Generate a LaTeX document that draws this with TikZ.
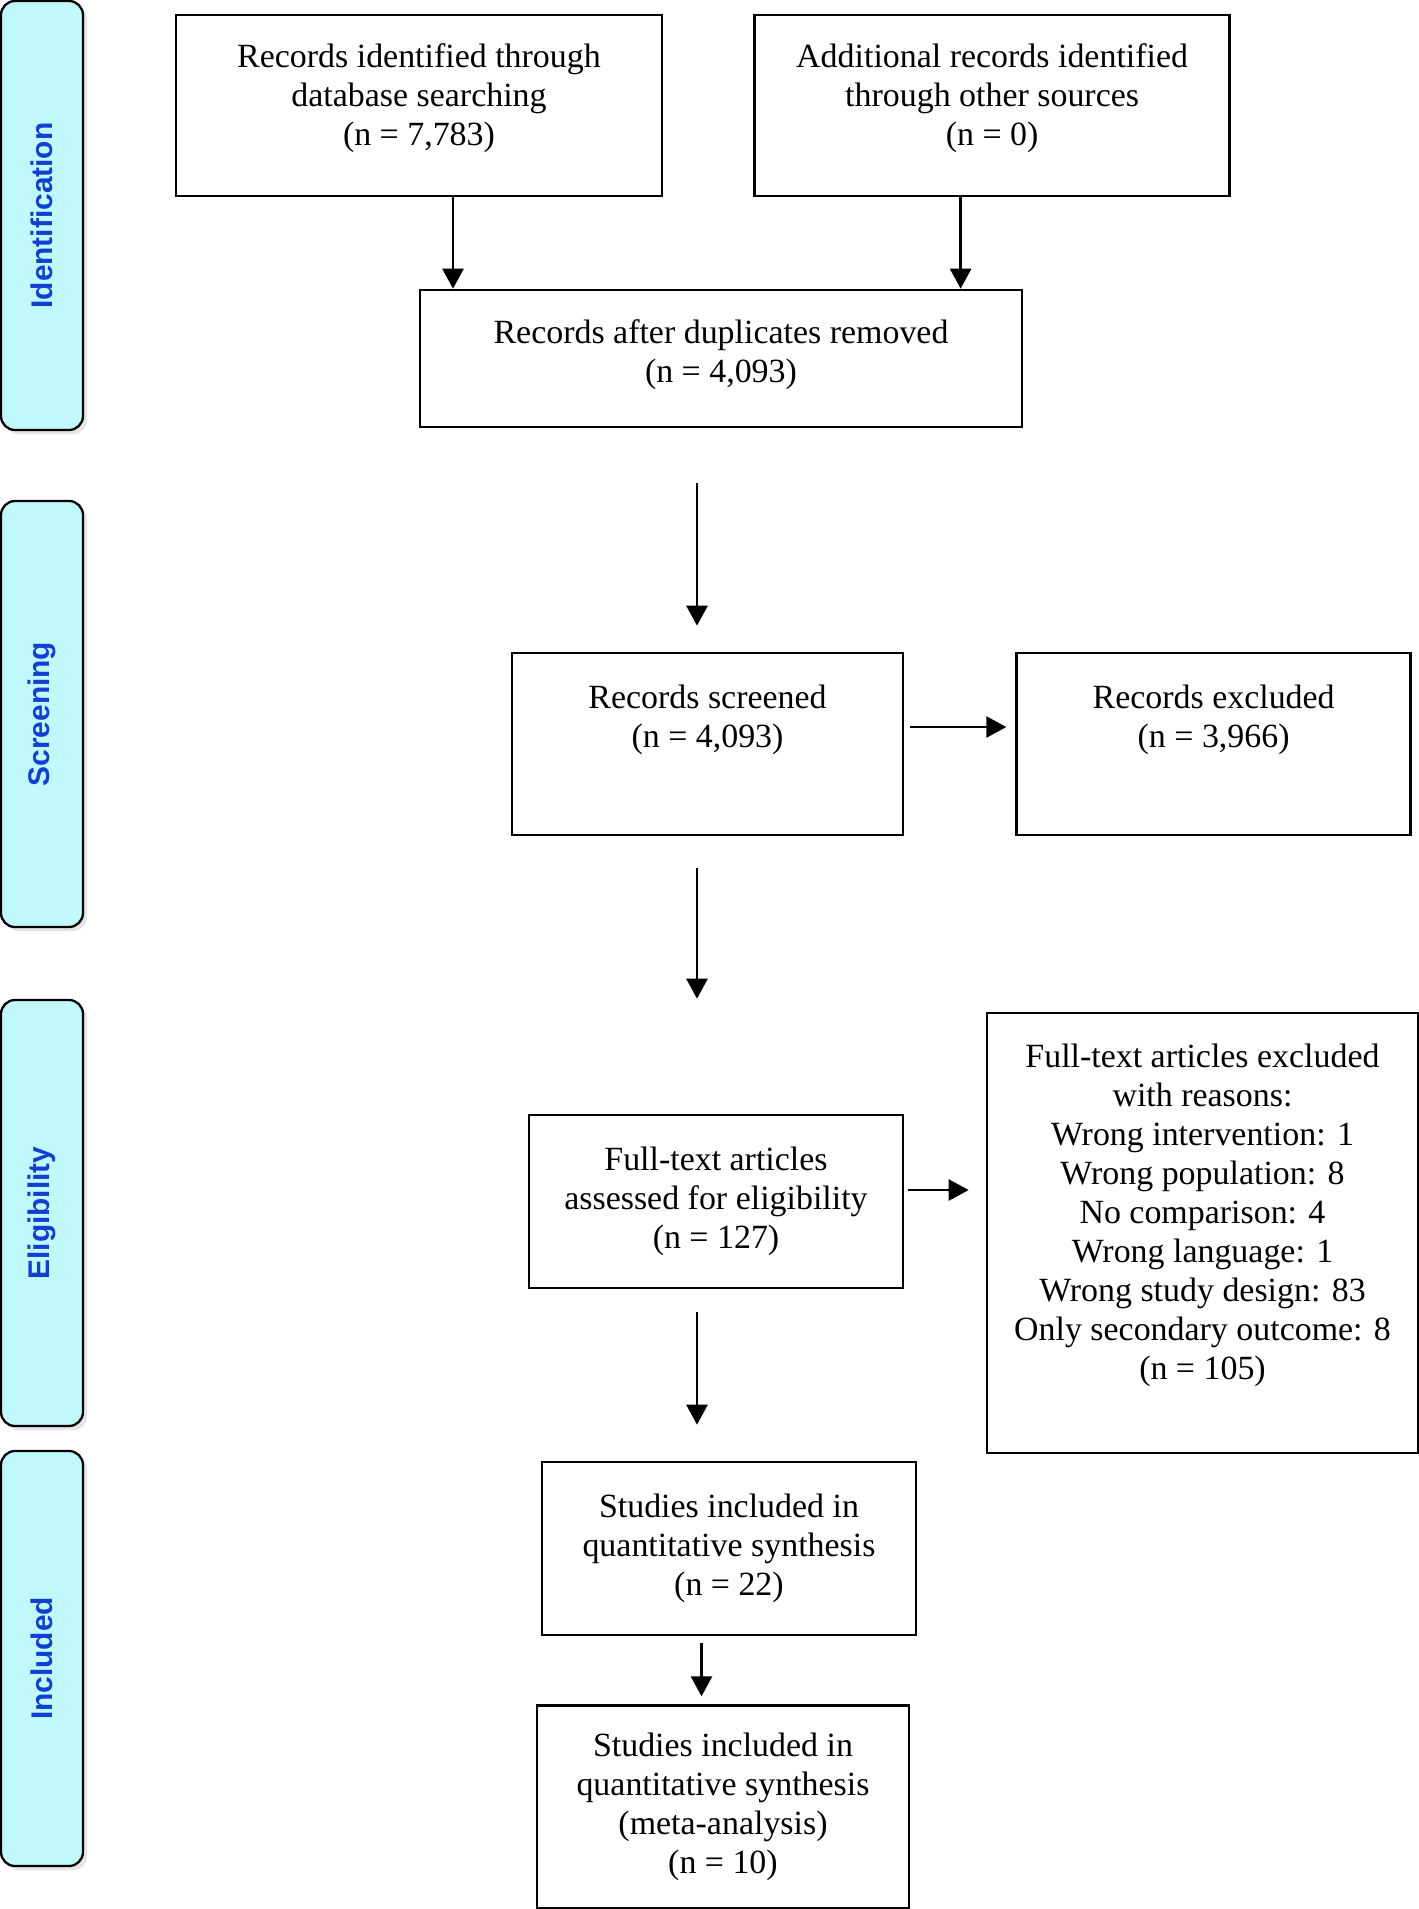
\documentclass[tikz,border=0pt]{standalone}
\usepackage{fontspec}
\setmainfont{Liberation Serif}
\newfontfamily\phasefont{Liberation Sans}
\usetikzlibrary{positioning}
\usetikzlibrary{arrows.meta}
\usetikzlibrary{shadows}
\definecolor{phasefill}{RGB}{192,248,252}
\definecolor{phasetext}{RGB}{16,64,208}
\tikzset{
  record/.style={draw, line width=1.5pt, align=center, inner sep=0pt,
    font=\fontsize{19.3}{22.2}\selectfont},
  phase/.style={draw, line width=1.3pt, rounded corners=0.28cm,
    fill=phasefill, rotate=90, minimum height=1.64cm, text=phasetext,
    font=\phasefont\bfseries\fontsize{17}{20}\selectfont,
    drop shadow={shadow xshift=0.08cm, shadow yshift=-0.08cm, fill=black!10, opacity=1}},
  flow/.style={-{Triangle[length=0.4cm,width=0.42cm]}, line width=1.5pt}
}
\begin{document}
\begin{tikzpicture}
\useasboundingbox (0,0) rectangle (28.38,-38.18);

% Phase bars
\node[phase, minimum width=8.58cm] (ident) at (0.84,-4.31) {Identification};
\node[phase, minimum width=8.52cm] (screen) at (0.84,-14.28) {Screening};
\node[phase, minimum width=8.52cm] (elig) at (0.84,-24.26) {Eligibility};
\node[phase, minimum width=8.30cm] (incl) at (0.84,-33.17) {Included};

% Identification
\node[record,
    minimum width=9.72cm,
    minimum height=3.62cm,
    text depth=0.45cm
    ] (dbsearch) at (8.38,-2.11) {Records identified through\\database searching\\(n = 7,783)};
\node[record,
    minimum width=9.5cm,
    minimum height=3.62cm,
    text depth=0.45cm,
    right=1.8cm of dbsearch
    ] (othersrc) {Additional records identified\\through other sources\\(n = 0)};
\node[record,
    minimum width=12.04cm,
    minimum height=2.74cm,
    text depth=0.3cm
    ] (dedup) at (14.42,-7.17) {Records after duplicates removed\\(n = 4,093)};

% Screening
\node[record,
    minimum width=7.82cm,
    minimum height=3.64cm,
    text depth=1.12cm
    ] (screened) at (14.15,-14.88) {Records screened\\(n = 4,093)};
\node[record,
    minimum width=7.88cm,
    minimum height=3.64cm,
    text depth=1.12cm,
    right=2.22cm of screened
    ] (excluded) {Records excluded\\(n = 3,966)};

% Eligibility
\node[record,
    minimum width=7.48cm,
    minimum height=3.46cm
    ] (fulltext) at (14.32,-24.03) {Full-text articles\\assessed for eligibility\\(n = 127)};
\node[record,
    minimum width=8.62cm,
    minimum height=8.8cm,
    text depth=0.85cm
    ] (ftexcl) at (24.05,-24.66) {Full-text articles excluded\\with reasons:\\Wrong intervention: 1\\Wrong population: 8\\No comparison: 4\\Wrong language: 1\\Wrong study design: 83\\Only secondary outcome: 8\\(n = 105)};

% Included
\node[record,
    minimum width=7.48cm,
    minimum height=3.46cm
    ] (quant) at (14.58,-30.97) {Studies included in\\quantitative synthesis\\(n = 22)};
\node[record,
    minimum width=7.44cm,
    minimum height=4.06cm,
    below=1.36cm of quant,
    xshift=-0.12cm
    ] (meta) {Studies included in\\quantitative synthesis\\(meta-analysis)\\(n = 10)};

% Arrows
\draw[flow] ([xshift=0.68cm]dbsearch.south) -- ([xshift=0.68cm]dbsearch.south |- dedup.north);
\draw[flow] ([xshift=-0.63cm]othersrc.south) -- ([xshift=-0.63cm]othersrc.south |- dedup.north);
\draw[flow, shorten <=1.1cm, shorten >=0.52cm] ([xshift=-0.21cm]screened.north |- dedup.south) -- ([xshift=-0.21cm]screened.north);
\draw[flow, shorten <=0.12cm, shorten >=0.18cm] ([yshift=0.34cm]screened.east) -- ([yshift=0.34cm]screened.east -| excluded.west);
\draw[flow, shorten <=0.64cm, shorten >=2.3cm] ([xshift=-0.21cm]screened.south) -- ([xshift=-0.21cm]screened.south |- fulltext.north);
\draw[flow, shorten <=0.08cm, shorten >=0.34cm] ([yshift=0.23cm]fulltext.east) -- ([yshift=0.23cm]fulltext.east -| ftexcl.west);
\draw[flow, shorten <=0.46cm, shorten >=0.72cm] ([xshift=-0.38cm]fulltext.south) -- ([xshift=-0.38cm]fulltext.south |- quant.north);
\draw[flow, shorten <=0.14cm, shorten >=0.16cm] ([xshift=-0.55cm]quant.south) -- ([xshift=-0.55cm]quant.south |- meta.north);
\end{tikzpicture}
\end{document}
